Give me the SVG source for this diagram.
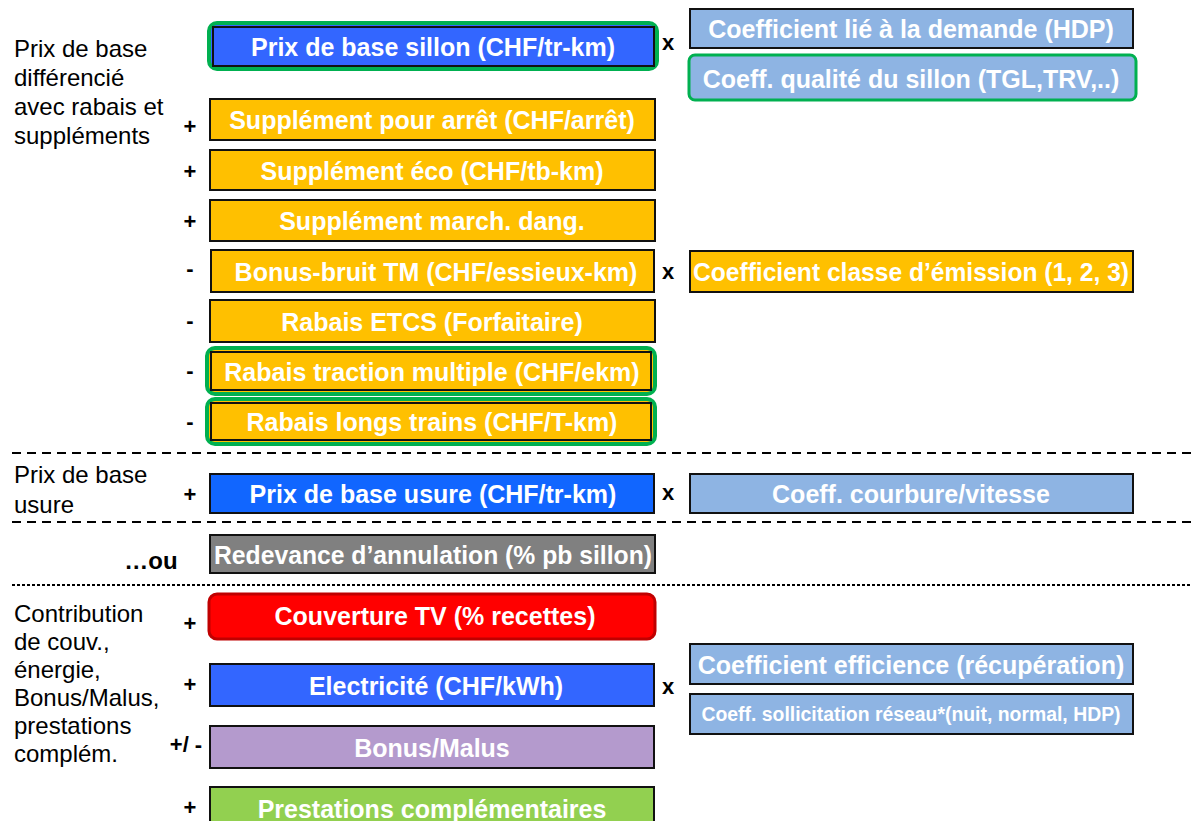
<svg xmlns="http://www.w3.org/2000/svg" width="1192" height="821" viewBox="0 0 1192 821">
<style>
  .bt{font-family:"Liberation Sans",Arial,sans-serif;font-weight:bold;font-size:25px;fill:#fff;text-anchor:middle}
  .lbl{font-family:"Liberation Sans",Arial,sans-serif;font-size:24px;fill:#000}
  .op{font-family:"Liberation Sans",Arial,sans-serif;font-weight:bold;font-size:22px;fill:#000;text-anchor:middle}
  .box{stroke:#111;stroke-width:2}
  .blue{fill:#3366FF}
  .org{fill:#FFC000}
  .lb{fill:#8EB4E3}
  .sep{stroke:#000;stroke-width:2;fill:none}
</style>
<rect width="1192" height="821" fill="#fff"/>
<g id="separators">
  <line class="sep" x1="12" y1="453" x2="1192" y2="453" stroke-dasharray="9 6"/>
  <line class="sep" x1="12" y1="522" x2="1192" y2="522" stroke-dasharray="9 6"/>
  <line class="sep" x1="12" y1="585" x2="1192" y2="585" stroke-dasharray="3 2" stroke-width="2.5"/>
</g>
<g id="labels">
  <text class="lbl" x="14" y="57">Prix de base</text>
  <text class="lbl" x="14" y="86">différencié</text>
  <text class="lbl" x="14" y="115">avec rabais et</text>
  <text class="lbl" x="14" y="144">suppléments</text>
  <text class="lbl" x="14" y="483">Prix de base</text>
  <text class="lbl" x="14" y="513">usure</text>
  <text class="op" x="151" y="569" style="font-size:24px">…ou</text>
  <text class="lbl" x="14" y="622">Contribution</text>
  <text class="lbl" x="14" y="650">de couv.,</text>
  <text class="lbl" x="14" y="678">énergie,</text>
  <text class="lbl" x="14" y="706">Bonus/Malus,</text>
  <text class="lbl" x="14" y="734">prestations</text>
  <text class="lbl" x="14" y="762">complém.</text>
</g>
<g id="operators">
  <text class="op" x="190" y="134">+</text>
  <text class="op" x="190" y="179">+</text>
  <text class="op" x="190" y="229">+</text>
  <text class="op" x="190" y="276">-</text>
  <text class="op" x="190" y="328">-</text>
  <text class="op" x="190" y="378">-</text>
  <text class="op" x="190" y="429">-</text>
  <text class="op" x="190" y="502">+</text>
  <text class="op" x="190" y="631">+</text>
  <text class="op" x="190" y="692">+</text>
  <text class="op" x="186" y="752">+/ -</text>
  <text class="op" x="190" y="815">+</text>
  <text class="op" x="668" y="50">x</text>
  <text class="op" x="668" y="279">x</text>
  <text class="op" x="668" y="500">x</text>
  <text class="op" x="668" y="694">x</text>
</g>
<g id="n-prix-sillon">
  <rect x="209" y="23" width="448" height="46" rx="8" fill="#3366FF" stroke="#00B050" stroke-width="4"/>
  <rect class="box blue" x="213" y="27" width="441" height="39" stroke-width="1.5"/>
  <text class="bt" x="433" y="56">Prix de base sillon (CHF/tr-km)</text>
</g>
<g id="n-supp-arret">
  <rect class="box org" x="210" y="99" width="445" height="41"/>
  <text class="bt" x="432" y="129">Supplément pour arrêt (CHF/arrêt)</text>
</g>
<g id="n-supp-eco">
  <rect class="box org" x="210" y="150" width="445" height="40"/>
  <text class="bt" x="432" y="180">Supplément éco (CHF/tb-km)</text>
</g>
<g id="n-supp-march">
  <rect class="box org" x="210" y="200" width="445" height="41"/>
  <text class="bt" x="432" y="230">Supplément march. dang.</text>
</g>
<g id="n-bonus-bruit">
  <rect class="box org" x="211" y="250" width="443" height="42" stroke-width="3"/>
  <text class="bt" x="436" y="281">Bonus-bruit TM (CHF/essieux-km)</text>
</g>
<g id="n-etcs">
  <rect class="box org" x="210" y="300" width="445" height="42"/>
  <text class="bt" x="432" y="331">Rabais ETCS (Forfaitaire)</text>
</g>
<g id="n-traction">
  <rect x="207" y="348" width="448" height="46" rx="8" fill="#FFC000" stroke="#00B050" stroke-width="4"/>
  <rect class="box org" x="211" y="352" width="440" height="38" stroke-width="1.5"/>
  <text class="bt" x="432" y="381">Rabais traction multiple (CHF/ekm)</text>
</g>
<g id="n-longs">
  <rect x="207" y="399" width="448" height="45" rx="8" fill="#FFC000" stroke="#00B050" stroke-width="4"/>
  <rect class="box org" x="211" y="403" width="440" height="37" stroke-width="1.5"/>
  <text class="bt" x="432" y="431">Rabais longs trains (CHF/T-km)</text>
</g>
<g id="n-usure">
  <rect class="box" x="210" y="474" width="444" height="39" fill="#1166FF"/>
  <text class="bt" x="433" y="503">Prix de base usure (CHF/tr-km)</text>
</g>
<g id="n-annulation">
  <rect class="box" x="210" y="535" width="445" height="38" fill="#808080"/>
  <text class="bt" x="433" y="564" textLength="438" lengthAdjust="spacingAndGlyphs">Redevance d’annulation (% pb sillon)</text>
</g>
<g id="n-couverture">
  <rect x="209" y="594" width="446" height="45" rx="8" fill="#FF0000" stroke="#C00000" stroke-width="3"/>
  <text class="bt" x="435" y="625">Couverture TV (% recettes)</text>
</g>
<g id="n-electricite">
  <rect class="box blue" x="210" y="664" width="444" height="42"/>
  <text class="bt" x="436" y="695">Electricité (CHF/kWh)</text>
</g>
<g id="n-bonus-malus">
  <rect class="box" x="210" y="726" width="444" height="42" fill="#B49ACD"/>
  <text class="bt" x="432" y="757">Bonus/Malus</text>
</g>
<g id="n-prestations">
  <rect class="box" x="210" y="787" width="444" height="50" fill="#92D050"/>
  <text class="bt" x="432" y="818">Prestations complémentaires</text>
</g>
<g id="n-coef-demande">
  <rect class="box lb" x="690" y="9" width="443" height="39"/>
  <text class="bt" x="911" y="38">Coefficient lié à la demande (HDP)</text>
</g>
<g id="n-coef-qualite">
  <rect x="689" y="55" width="447" height="45" rx="6" fill="#8EB4E3" stroke="#00B050" stroke-width="3"/>
  <text class="bt" x="911" y="88">Coeff. qualité du sillon (TGL,TRV,..)</text>
</g>
<g id="n-coef-emission">
  <rect class="box org" x="690" y="251" width="443" height="41"/>
  <text class="bt" x="911" y="281" textLength="436" lengthAdjust="spacingAndGlyphs">Coefficient classe d’émission  (1, 2, 3)</text>
</g>
<g id="n-coef-courbure">
  <rect class="box lb" x="690" y="474" width="443" height="39"/>
  <text class="bt" x="911" y="503">Coeff. courbure/vitesse</text>
</g>
<g id="n-coef-efficience">
  <rect class="box lb" x="690" y="644" width="443" height="40"/>
  <text class="bt" x="911" y="674">Coefficient efficience (récupération)</text>
</g>
<g id="n-coef-sollicitation">
  <rect class="box lb" x="690" y="694" width="443" height="40"/>
  <text class="bt" x="911" y="721" style="font-size:19.4px">Coeff. sollicitation réseau*(nuit, normal, HDP)</text>
</g>
</svg>
